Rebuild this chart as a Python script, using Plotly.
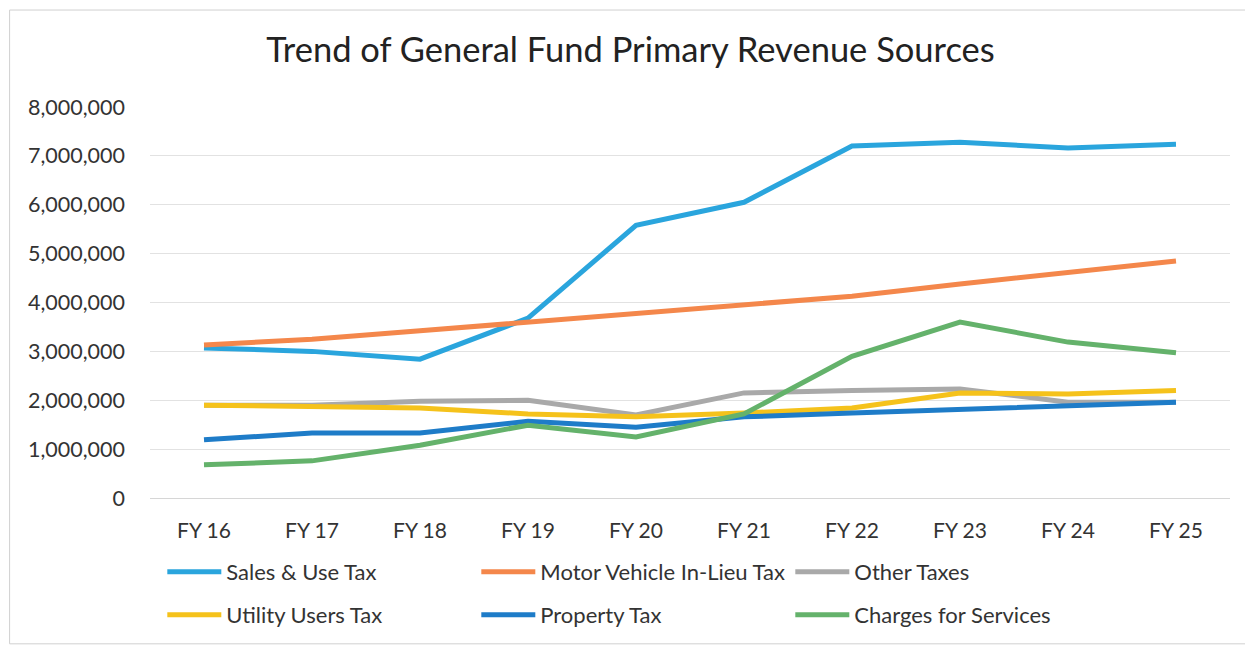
import plotly.graph_objects as go

years = ["FY 16", "FY 17", "FY 18", "FY 19", "FY 20", "FY 21", "FY 22", "FY 23", "FY 24", "FY 25"]
sales_use = [3070000, 3000000, 2840000, 3680000, 5580000, 6050000, 7200000, 7280000, 7160000, 7240000]
motor_vehicle = [3130000, 3250000, 3420000, 3600000, 3780000, 3950000, 4130000, 4380000, 4620000, 4850000]
other_taxes = [1900000, 1900000, 1980000, 2000000, 1700000, 2150000, 2200000, 2230000, 1960000, 1960000]
utility_users = [1900000, 1880000, 1840000, 1720000, 1660000, 1740000, 1840000, 2150000, 2130000, 2200000]
property_tax = [1190000, 1330000, 1330000, 1570000, 1450000, 1660000, 1740000, 1820000, 1880000, 1960000]
charges_services = [680000, 760000, 1080000, 1490000, 1250000, 1720000, 2900000, 3600000, 3190000, 2970000]

series = [
    ("Sales & Use Tax", sales_use, "#2AA5DD", "legend"),
    ("Motor Vehicle In-Lieu Tax", motor_vehicle, "#F4874B", "legend"),
    ("Other Taxes", other_taxes, "#A9A9A9", "legend"),
    ("Utility Users Tax", utility_users, "#F5C21B", "legend2"),
    ("Property Tax", property_tax, "#1E7CC8", "legend2"),
    ("Charges for Services", charges_services, "#64B26B", "legend2"),
]

fig = go.Figure()
for name, vals, color, leg in series:
    fig.add_trace(go.Scatter(x=years, y=vals, name=name, mode="lines",
                             line=dict(color=color, width=5), legend=leg))

font = "Lato, Open Sans, sans-serif"
legend_common = dict(orientation="h", xanchor="left", yanchor="middle", x=0.0114,
                     font=dict(family=font, size=22, color="#333333"),
                     entrywidth=245, entrywidthmode="pixels", itemwidth=54,
                     bgcolor="rgba(0,0,0,0)", traceorder="normal")

fig.update_layout(
    width=1245, height=640,
    margin=dict(l=142, r=23, t=99, b=150, autoexpand=False),
    paper_bgcolor="white", plot_bgcolor="white",
    title=dict(text="Trend of General Fund Primary Revenue Sources", x=0.5, xanchor="center",
               y=0.934, yanchor="middle",
               font=dict(family=font, size=34.5, color="#222222")),
    xaxis=dict(range=[-0.5, 9.5], showgrid=False, showline=False, ticks="",
               tickfont=dict(family=font, size=21, color="#333333"), ticklabelstandoff=18),
    yaxis=dict(range=[0, 8000000], dtick=1000000, tickformat=",d", showgrid=True,
               gridcolor="#E2E2E2", gridwidth=1, zeroline=True, zerolinecolor="#D6D6D6",
               zerolinewidth=1, tickfont=dict(family=font, size=21.5, color="#333333"),
               ticklabelstandoff=24),
    legend=dict(**legend_common, y=-0.189),
    legend2=dict(**legend_common, y=-0.299),
    showlegend=True,
)
fig.add_shape(type="rect", xref="paper", yref="paper", x0=-0.130, x1=1.018, y0=-0.373, y1=1.248,
              line=dict(color="#D0D0D0", width=1))

fig.write_html("out.html")
